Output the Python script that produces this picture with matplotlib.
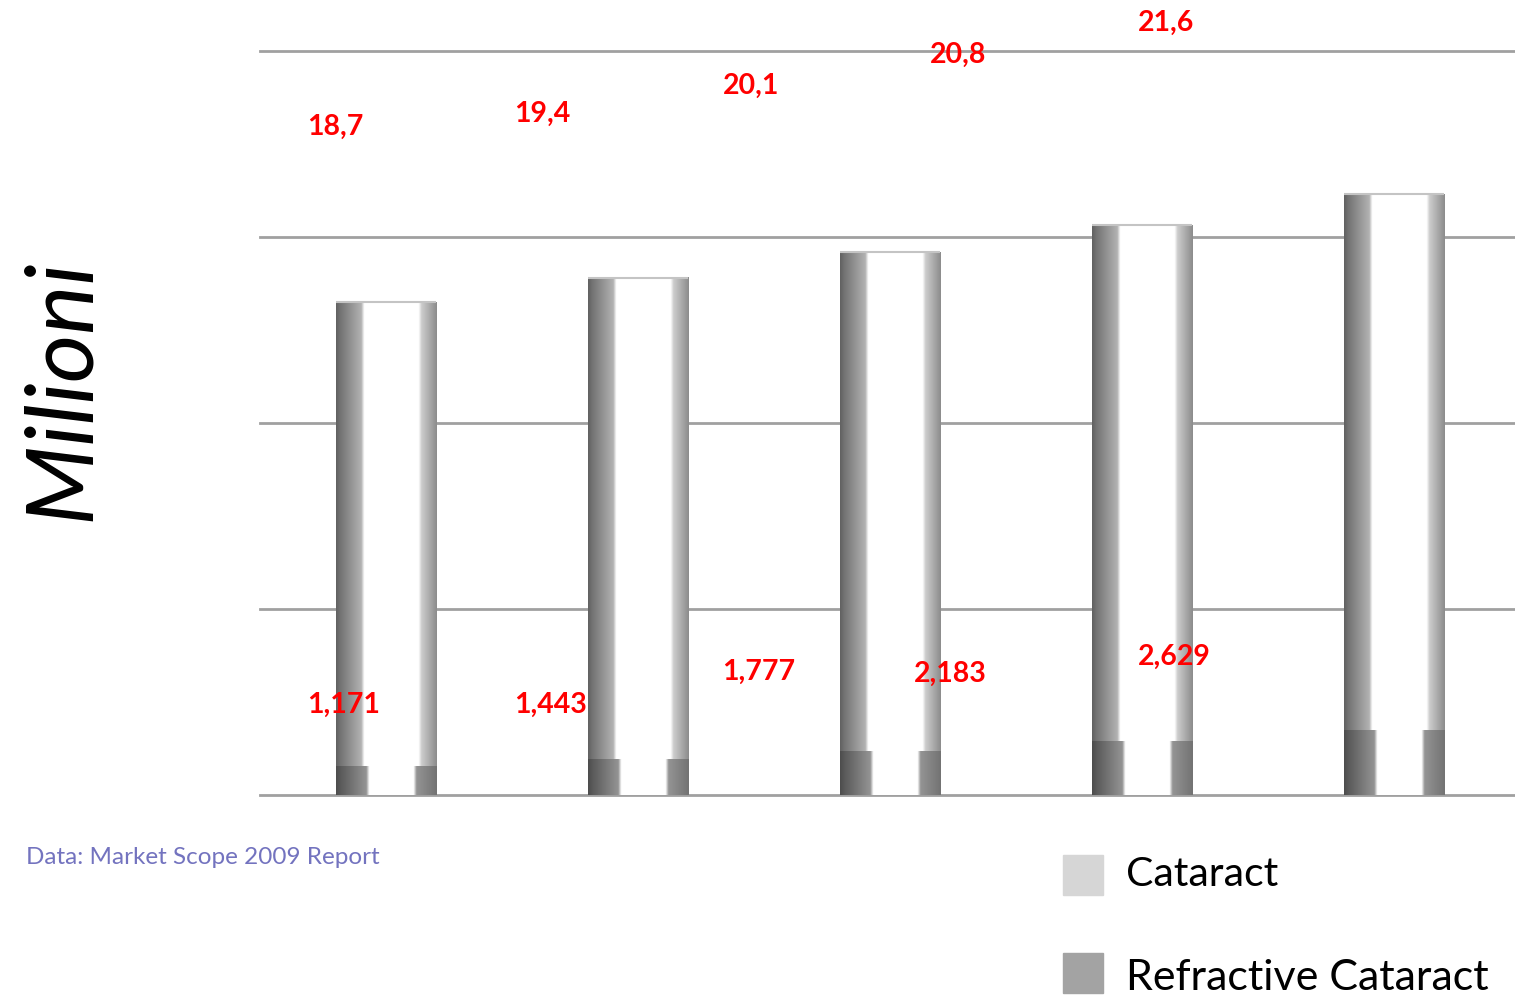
import numpy as np
import matplotlib
matplotlib.use("Agg")
import matplotlib.pyplot as plt
from matplotlib.patches import Rectangle

# values in millions
years = ["2009", "2010", "2011", "2012", "2013"]
cataract = [18.7, 19.4, 20.1, 20.8, 21.6]
refractive = [1.171, 1.443, 1.777, 2.183, 2.629]
cataract_labels = ["18,7", "19,4", "20,1", "20,8", "21,6"]
refractive_labels = ["1,171", "1,443", "1,777", "2,183", "2,629"]

plt.rcParams["font.family"] = ["Lato", "DejaVu Sans"]

fig = plt.figure(figsize=(15.15, 9.98), dpi=100)
ax = fig.add_axes([260 / 1515, 203 / 998, 1255 / 1515, 744 / 998])

x = np.arange(len(years))
bw = 0.4
bars_r = ax.bar(x, refractive, bw, color="none", edgecolor="none")
bars_c = ax.bar(x, cataract, bw, bottom=refractive, color="none", edgecolor="none")


def shade(pos, vals, n=200):
    t = np.linspace(0, 1, n)
    g = np.interp(t, pos, vals)
    return np.dstack([g, g, g])


grad_c = shade([0, 0.04, 0.25, 0.28, 0.82, 0.85, 1.0],
               [0.38, 0.45, 0.70, 1.0, 1.0, 0.80, 0.55])
grad_r = shade([0, 0.04, 0.30, 0.33, 0.77, 0.80, 1.0],
               [0.30, 0.35, 0.58, 1.0, 1.0, 0.58, 0.45])

for bars, grad in ((bars_r, grad_r), (bars_c, grad_c)):
    for b in bars:
        x0, y0 = b.get_x(), b.get_y()
        w, h = b.get_width(), b.get_height()
        ax.imshow(grad, extent=[x0, x0 + w, y0, y0 + h], aspect="auto",
                  interpolation="bilinear", zorder=3)
for b in bars_c:
    top = b.get_y() + b.get_height()
    ax.plot([b.get_x(), b.get_x() + b.get_width()], [top, top],
            color="#c4c4c4", lw=1.5, zorder=4, solid_capstyle="butt")

ax.set_xlim(-0.5, 4.48)
ax.set_ylim(0, 30)
ax.set_yticks([0, 7.5, 15, 22.5, 30])
ax.set_xticks([])
ax.yaxis.grid(True, color="#a0a0a0", lw=2.0, zorder=0)
for gl in ax.get_ygridlines():
    gl.set_clip_on(False)
ax.tick_params(axis="y", length=0, labelleft=False)
for s in ax.spines.values():
    s.set_visible(False)
ax.set_axisbelow(True)

# data labels, offset to the left as in the original slide
lx = x * 0.825 - 0.315
cat_y = [26.95, 27.48, 28.6, 29.86, 31.15]
ref_y = [3.62, 3.62, 4.95, 4.87, 5.56]
for i in range(len(years)):
    ax.text(lx[i], cat_y[i], cataract_labels[i], color="red", fontsize=20.5,
            fontweight="bold", ha="left", va="center", zorder=6, clip_on=False)
    ax.text(lx[i] - (0.065 if i == 3 else 0), ref_y[i], refractive_labels[i],
            color="red", fontsize=20.5, fontweight="bold", ha="left",
            va="center", zorder=6, clip_on=False)

fig.text(62 / 1515, 1 - 390 / 998, "Milioni", rotation=90, fontsize=67,
         style="italic", ha="center", va="center", color="black")

fig.text(26 / 1515, 1 - 857 / 998, "Data: Market Scope 2009 Report",
         color="#7373bf", fontsize=17.5, ha="left", va="center")

fig.patches.append(Rectangle((1063 / 1515, 1 - 895 / 998), 40 / 1515, 40 / 998,
                             transform=fig.transFigure, color="#d6d6d6"))
fig.patches.append(Rectangle((1063 / 1515, 1 - 993 / 998), 40 / 1515, 40 / 998,
                             transform=fig.transFigure, color="#a3a3a3"))
fig.text(1126 / 1515, 1 - 874 / 998, "Cataract", fontsize=29.5,
         ha="left", va="center", color="black")
fig.text(1126 / 1515, 1 - 978 / 998, "Refractive Cataract", fontsize=31,
         ha="left", va="center", color="black")

fig.savefig("out.png", dpi=100)
